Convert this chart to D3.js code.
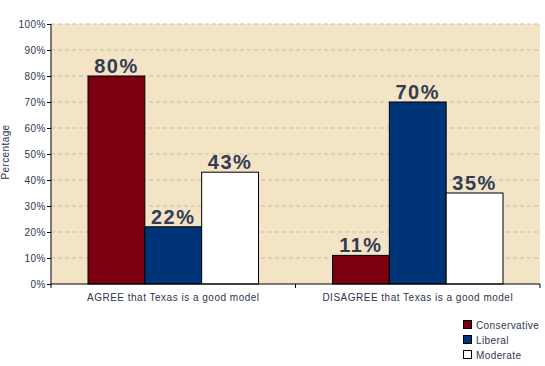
<!DOCTYPE html>
<html lang="en">
<head>
    <style>
        body { margin: 0; background: #fff; }
        text { font-family: "Liberation Sans", Arial, sans-serif; fill: #2e3550; }
        .grid line { stroke: #c8bda0; stroke-dasharray: 4,3; }
    </style>
    <script src="https://d3js.org/d3.v7.min.js"></script>
</head>
<body>
    <svg width="545" height="366"></svg>
    <script>
        var categories = ["AGREE that Texas is a good model", "DISAGREE that Texas is a good model"];
        var seriesNames = ["Conservative", "Liberal", "Moderate"];
        var conservative = [80, 11];
        var liberal = [22, 70];
        var moderate = [43, 35];
        var yTicks = [0, 10, 20, 30, 40, 50, 60, 70, 80, 90, 100];
        var colors = ["#7a0010", "#003478", "#ffffff"];

        var svg = d3.select("svg"),
            marginLeft = 51, marginTop = 24, width = 489, height = 260;

        var g = svg.append("g").attr("transform", "translate(" + marginLeft + "," + marginTop + ")");

        var x0 = d3.scaleBand().domain(categories).range([0, width]);
        var x1 = d3.scaleBand().domain(seriesNames).range([37, x0.bandwidth() - 37]);
        var y = d3.scaleLinear().domain([0, 100]).range([height, 0]);

        g.append("rect").attr("width", width).attr("height", height).attr("fill", "#f2e4c4");

        g.append("g").attr("class", "grid")
            .selectAll("line").data(yTicks.slice(1)).enter().append("line")
            .attr("x1", 0).attr("x2", width)
            .attr("y1", function(d) { return y(d); }).attr("y2", function(d) { return y(d); });

        var data = categories.map(function(c, i) {
            return [conservative[i], liberal[i], moderate[i]].map(function(v, j) {
                return { cat: c, name: seriesNames[j], value: v, color: colors[j] };
            });
        });

        var groups = g.selectAll(".grp").data(data).enter().append("g")
            .attr("transform", function(d, i) { return "translate(" + x0(categories[i]) + ",0)"; });

        groups.selectAll("rect").data(function(d) { return d; }).enter().append("rect")
            .attr("x", function(d) { return x1(d.name); })
            .attr("y", function(d) { return y(d.value); })
            .attr("width", x1.bandwidth())
            .attr("height", function(d) { return height - y(d.value); })
            .attr("fill", function(d) { return d.color; })
            .attr("stroke", "#000").attr("stroke-width", 1);

        groups.selectAll(".lbl").data(function(d) { return d; }).enter().append("text")
            .attr("x", function(d) { return x1(d.name) + x1.bandwidth() / 2; })
            .attr("y", function(d) { return y(d.value) - 3; })
            .attr("text-anchor", "middle")
            .attr("font-size", "20px").attr("font-weight", "bold")
            .attr("letter-spacing", "1.5px")
            .style("fill", "#333b55")
            .text(function(d) { return d.value + "%"; });

        // axes
        var yAxis = g.append("g")
            .call(d3.axisLeft(y).tickValues(yTicks).tickSize(4).tickFormat(function(d) { return d + "%"; }));
        yAxis.select(".domain").attr("stroke", "#000").attr("d", "M0," + height + "V0");
        yAxis.selectAll(".tick line").attr("stroke", "#000");
        yAxis.selectAll("text").attr("font-size", "10px").attr("x", -5)
            .attr("letter-spacing", "0.5px").style("fill", "#2e3550");

        var xAxis = g.append("g").attr("transform", "translate(0," + height + ")")
            .call(d3.axisBottom(x0).tickSize(0).tickSizeOuter(0));
        xAxis.select(".domain").attr("stroke", "#000").attr("d", "M0,0H" + width);
        xAxis.selectAll("text").attr("font-size", "10px").attr("dy", "1.35em")
            .attr("letter-spacing", "0.5px").style("fill", "#2e3550");
        xAxis.selectAll(".sep").data([0, x0.bandwidth(), width]).enter().append("line")
            .attr("x1", function(d) { return d; }).attr("x2", function(d) { return d; })
            .attr("y1", 0).attr("y2", 4).attr("stroke", "#000");

        svg.append("text")
            .attr("transform", "translate(9," + (marginTop + height / 2 - 2) + ") rotate(-90)")
            .attr("text-anchor", "middle").attr("font-size", "10px")
            .attr("letter-spacing", "0.4px")
            .text("Percentage");

        // legend
        var legend = svg.append("g").attr("transform", "translate(463,320)");
        var items = legend.selectAll("g").data(seriesNames).enter().append("g")
            .attr("transform", function(d, i) { return "translate(0," + (i * 15) + ")"; });
        items.append("rect").attr("width", 8).attr("height", 8).attr("x", 0.5).attr("y", 0.5)
            .attr("fill", function(d, i) { return colors[i]; })
            .attr("stroke", "#000").attr("stroke-width", 1);
        items.append("text").attr("x", 13).attr("y", 8.5).attr("font-size", "10px")
            .attr("letter-spacing", "0.4px")
            .text(function(d) { return d; });
    </script>
</body>
</html>
